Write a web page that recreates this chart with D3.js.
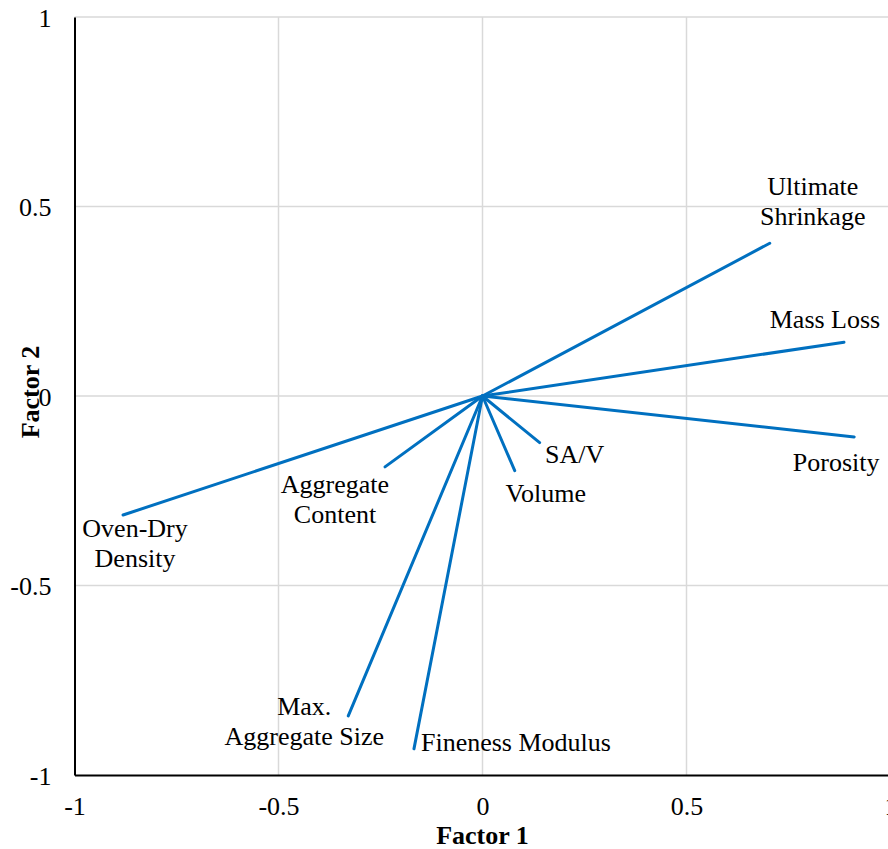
<!DOCTYPE html>
<html>
<head>
<meta charset="utf-8">
<script src="https://cdn.jsdelivr.net/npm/d3@7"></script>
<style>
  html, body { margin: 0; padding: 0; background: #fff; }
  svg { display: block; }
</style>
</head>
<body>
<svg id="chart" width="888" height="849"></svg>
<script>
// Factor loadings (Factor 1, Factor 2) for each variable
const variables = ["Ultimate Shrinkage", "Mass Loss", "Porosity", "SA/V", "Volume",
                   "Aggregate Content", "Oven-Dry Density", "Max. Aggregate Size", "Fineness Modulus"];
const factor1 = [0.704, 0.886, 0.911, 0.140, 0.079, -0.239, -0.881, -0.329, -0.168];
const factor2 = [0.403, 0.142, -0.108, -0.123, -0.197, -0.187, -0.314, -0.844, -0.931];
// Label text lines per variable
const labelLines = [["Ultimate", "Shrinkage"], ["Mass Loss"], ["Porosity"], ["SA/V"], ["Volume"],
                    ["Aggregate", "Content"], ["Oven-Dry", "Density"], ["Max.", "Aggregate Size"], ["Fineness Modulus"]];
const ticks = [-1, -0.5, 0, 0.5, 1];

// Label placement relative to the end of each loading vector (pixels)
const labelPlacement = [
  { dx: 43, dy: -48, anchor: "middle" },
  { dx: -19, dy: -14, anchor: "middle" },
  { dx: -18, dy: 34, anchor: "middle" },
  { dx: 35, dy: 20, anchor: "middle" },
  { dx: 31, dy: 31, anchor: "middle" },
  { dx: -50, dy: 26, anchor: "middle" },
  { dx: 12, dy: 22, anchor: "middle" },
  { dx: -44, dy: -1, anchor: "middle" },
  { dx: 7, dy: 2, anchor: "start" }
];

const FONT = "'Liberation Serif', 'Times New Roman', serif";
const fontSize = 26;
const lineGap = 30;

const svg = d3.select("#chart").style("font-family", FONT);
const x = d3.scaleLinear().domain([-1, 1]).range([74.5, 890.5]);
const y = d3.scaleLinear().domain([-1, 1]).range([775, 17]);

// Gridlines
const grid = svg.append("g");
grid.selectAll("line.vx").data(ticks.filter(t => t > -1)).join("line")
  .attr("class", "vx")
  .attr("x1", d => x(d)).attr("x2", d => x(d))
  .attr("y1", y(-1)).attr("y2", y(1))
  .attr("stroke", "#d9d9d9").attr("stroke-width", 1.5);
grid.selectAll("line.hy").data(ticks.filter(t => t > -1)).join("line")
  .attr("class", "hy")
  .attr("y1", d => y(d)).attr("y2", d => y(d))
  .attr("x1", x(-1)).attr("x2", x(1))
  .attr("stroke", "#d9d9d9").attr("stroke-width", 1.5);

// Axes (lines at -1 on each side)
const fmt = d => String(d);
const xAxis = d3.axisBottom(x).tickValues(ticks).tickSize(0).tickFormat(fmt);
const yAxis = d3.axisLeft(y).tickValues(ticks).tickSize(0).tickFormat(fmt);

const gx = svg.append("g").attr("transform", `translate(0,${y(-1)})`).call(xAxis);
gx.attr("font-family", null).attr("font-size", null);
gx.select(".domain").attr("stroke", "#000").attr("stroke-width", 2);
gx.selectAll(".tick text").style("font-family", FONT).style("font-size", fontSize + "px")
  .attr("y", 0).attr("dy", 40).attr("fill", "#000");

const gy = svg.append("g").attr("transform", `translate(${x(-1)},0)`).call(yAxis);
gy.attr("font-family", null).attr("font-size", null);
gy.select(".domain").attr("stroke", "#000").attr("stroke-width", 2);
gy.selectAll(".tick text").style("font-family", FONT).style("font-size", fontSize + "px")
  .attr("x", -23).attr("dy", 9).attr("fill", "#000");

// Loading vectors
const data = variables.map((v, i) => ({ name: v, f1: factor1[i], f2: factor2[i], lines: labelLines[i], p: labelPlacement[i] }));

svg.append("g").selectAll("line").data(data).join("line")
  .attr("x1", x(0)).attr("y1", y(0))
  .attr("x2", d => x(d.f1)).attr("y2", d => y(d.f2))
  .attr("stroke", "#0070c0").attr("stroke-width", 3).attr("stroke-linecap", "round");

// Variable labels
const labels = svg.append("g").selectAll("text").data(data).join("text")
  .style("font-family", FONT).style("font-size", fontSize + "px")
  .attr("fill", "#000")
  .attr("text-anchor", d => d.p.anchor)
  .attr("x", d => x(d.f1) + d.p.dx)
  .attr("y", d => y(d.f2) + d.p.dy);
labels.selectAll("tspan").data(d => d.lines.map((t, k) => ({ t, k, d }))).join("tspan")
  .attr("x", o => x(o.d.f1) + o.d.p.dx)
  .attr("dy", o => o.k === 0 ? 0 : lineGap)
  .text(o => o.t);

// Axis titles
svg.append("text").attr("x", x(0)).attr("y", 844).attr("text-anchor", "middle")
  .style("font-family", FONT).style("font-size", fontSize + "px").style("font-weight", "bold")
  .text("Factor 1");
svg.append("text").attr("transform", `translate(39,${y(0) - 4}) rotate(-90)`).attr("text-anchor", "middle")
  .style("font-family", FONT).style("font-size", fontSize + "px").style("font-weight", "bold")
  .text("Factor 2");
</script>
</body>
</html>
